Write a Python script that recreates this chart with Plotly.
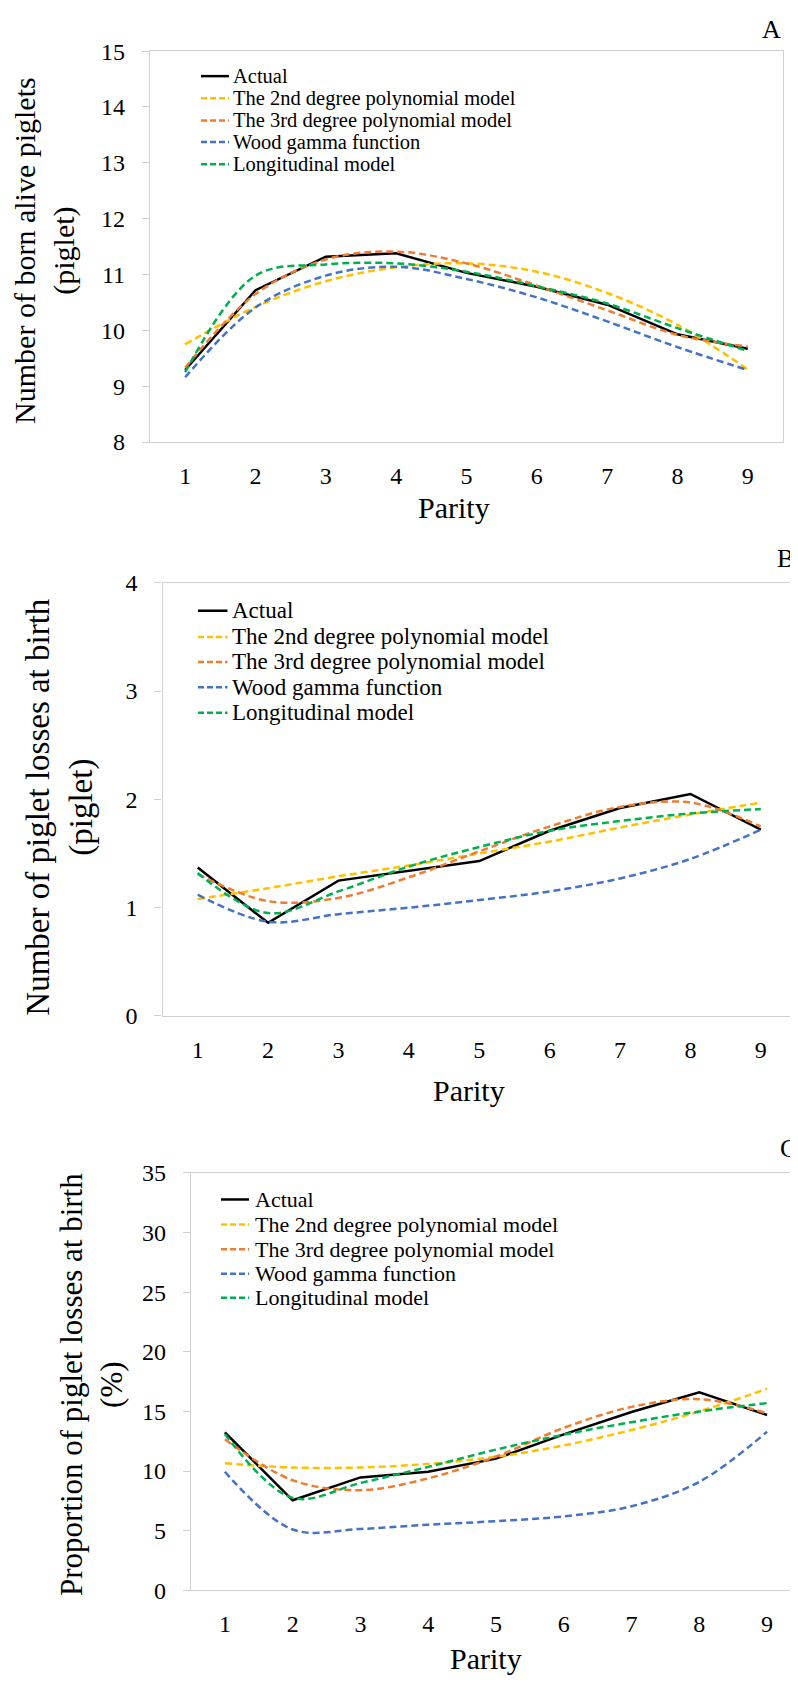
import plotly.graph_objects as go

# ---------------- data ----------------
parity = [1, 2, 3, 4, 5, 6, 7, 8, 9]
series_names = ["Actual", "The 2nd degree polynomial model", "The 3rd degree polynomial model",
                "Wood gamma function", "Longitudinal model"]

# Panel A: number of born alive piglets
a_actual = [9.29, 10.72, 11.32, 11.38, 11.03, 10.78, 10.46, 9.93, 9.67]
a_poly2 = [9.75, 10.42, 10.88, 11.13, 11.20, 11.05, 10.67, 10.10, 9.30]
a_poly3 = [9.33, 10.65, 11.27, 11.41, 11.20, 10.80, 10.36, 9.92, 9.71]
a_wood = [9.16, 10.41, 10.98, 11.14, 10.92, 10.59, 10.16, 9.70, 9.29]
a_long = [9.25, 10.98, 11.18, 11.20, 11.05, 10.79, 10.48, 10.04, 9.63]

# Panel B: number of piglet losses at birth
b_actual = [1.37, 0.86, 1.25, 1.34, 1.43, 1.71, 1.92, 2.05, 1.72]
b_poly2 = [1.08, 1.18, 1.29, 1.39, 1.50, 1.61, 1.74, 1.86, 1.97]
b_poly3 = [1.31, 1.06, 1.09, 1.28, 1.52, 1.75, 1.93, 1.97, 1.75]
b_wood = [1.12, 0.87, 0.94, 1.00, 1.07, 1.15, 1.27, 1.45, 1.72]
b_long = [1.32, 0.95, 1.15, 1.38, 1.56, 1.71, 1.80, 1.87, 1.91]

# Panel C: proportion of piglet losses at birth (%)
c_actual = [13.24, 7.55, 9.47, 9.94, 11.04, 13.08, 14.95, 16.6, 14.7]
c_poly2 = [10.65, 10.3, 10.3, 10.6, 11.2, 12.15, 13.45, 15.0, 16.9]
c_poly3 = [12.66, 9.23, 8.40, 9.39, 11.22, 13.62, 15.38, 16.03, 14.84]
c_wood = [9.94, 5.1, 5.15, 5.5, 5.8, 6.2, 7.05, 9.1, 13.3]
c_long = [13.1, 7.75, 9.0, 10.35, 11.8, 13.05, 14.1, 15.0, 15.7]

panel_labels = ["A", "B", "C"]
y_titles = ["Number of born alive piglets<br>(piglet)",
            "Number of piglet losses at birth<br>(piglet)",
            "Proportion of piglet losses at birth<br>(%)"]
x_title = "Parity"

# ---------------- styles / layout ----------------
OFF = 8                      # default page body margin shifts the figure by 8 px
W, H = 798 - OFF, 1688 - OFF
FONT = "Liberation Serif, Times New Roman, serif"
colors = ["#000000", "#FFC000", "#ED7D31", "#4472C4", "#00B050"]
dashes = ["solid", "7px,4px", "7px,4px", "7px,4px", "7px,4px"]
shapes_line = ["linear", "spline", "spline", "spline", "spline"]
AXIS_GRAY = "#D0D0D0"


def px_x(p):
    return min(1.0, (p - OFF) / W)


def px_y(p):
    return 1 - (p - OFF) / H


panels = [
    dict(data=[a_actual, a_poly2, a_poly3, a_wood, a_long],
         xdom=[150, 783], ytop=38.6, ybot=435.7, yrange=[8, 15], dtick=1, xrange=[0.5, 9.5],
         ymirror=True,
         ytitle_pos=(44.5, 241, 30), xtitle_pos=(453.6, 502), label_pos=(771, 17),
         leg_rows=[64, 86.4, 109, 131, 153.6], leg_line=(201, 229), leg_text=231, leg_font=20.5),
    dict(data=[b_actual, b_poly2, b_poly3, b_wood, b_long],
         xdom=[162.5, 796], ytop=578.6, ybot=1018.6, yrange=[0, 4], dtick=1, xrange=[0.5, 9.5],
         ymirror=True,
         ytitle_pos=(60, 806, 33), xtitle_pos=(469, 1094), label_pos=(785, 554),
         leg_rows=[607, 633.6, 659, 684.6, 710.7], leg_line=(198, 227.5), leg_text=230, leg_font=23),
    dict(data=[c_actual, c_poly2, c_poly3, c_wood, c_long],
         xdom=[191, 798], ytop=1178, ybot=1602, yrange=[0, 35], dtick=5, xrange=[0.5, 9.456],
         ymirror=False,
         ytitle_pos=(91.5, 1393, 31), xtitle_pos=(486, 1671), label_pos=(788, 1153),
         leg_rows=[1205, 1230.5, 1255.5, 1280.5, 1304.8], leg_line=(221, 249), leg_text=253, leg_font=22),
]

fig = go.Figure()
annotations = []
shapes = []
layout_axes = {}

for i, p in enumerate(panels):
    n = "" if i == 0 else str(i + 1)
    xa, ya = "x" + n, "y" + n
    for k, vals in enumerate(p["data"]):
        fig.add_trace(go.Scatter(
            x=parity, y=vals, name=series_names[k], mode="lines",
            line=dict(color=colors[k], width=2.5, dash=dashes[k], shape=shapes_line[k]),
            xaxis=xa, yaxis=ya, showlegend=False, hoverinfo="skip"))

    layout_axes["xaxis" + n] = dict(
        domain=[px_x(p["xdom"][0]), px_x(p["xdom"][1])], range=p["xrange"],
        anchor=ya, tickmode="array", tickvals=parity, ticktext=[str(v) for v in parity],
        showline=True, mirror=True, linecolor=AXIS_GRAY, linewidth=1.3,
        ticks="", showgrid=False, zeroline=False, ticklabelstandoff=12,
        tickfont=dict(family=FONT, size=24, color="black"), fixedrange=True)
    layout_axes["yaxis" + n] = dict(
        domain=[px_y(p["ybot"]), px_y(p["ytop"])], range=p["yrange"], dtick=p["dtick"],
        anchor=xa, showline=True, mirror=p["ymirror"], linecolor=AXIS_GRAY, linewidth=1.3,
        ticks="outside", ticklen=7, tickcolor=AXIS_GRAY, tickwidth=1.3,
        showgrid=False, zeroline=False, ticklabelstandoff=12,
        tickfont=dict(family=FONT, size=24, color="black"), fixedrange=True)

    # y-axis title
    tx, ty, tfs = p["ytitle_pos"]
    annotations.append(dict(text=y_titles[i], x=px_x(tx), y=px_y(ty), xref="paper", yref="paper",
                            xanchor="center", yanchor="middle", textangle=-90, showarrow=False,
                            font=dict(family=FONT, size=tfs, color="black")))
    # x-axis title
    xx, xy = p["xtitle_pos"]
    annotations.append(dict(text=x_title, x=px_x(xx), y=px_y(xy), xref="paper", yref="paper",
                            xanchor="center", yanchor="middle", showarrow=False,
                            font=dict(family=FONT, size=30, color="black")))
    # panel label
    lx, ly = p["label_pos"]
    annotations.append(dict(text=panel_labels[i], x=px_x(lx), y=px_y(ly), xref="paper", yref="paper",
                            xanchor="center", yanchor="middle", showarrow=False,
                            font=dict(family=FONT, size=26, color="black")))
    # legend (drawn manually to match the tight Excel spacing)
    for k, row in enumerate(p["leg_rows"]):
        shapes.append(dict(type="line", xref="paper", yref="paper",
                           x0=px_x(p["leg_line"][0]), x1=px_x(p["leg_line"][1]),
                           y0=px_y(row), y1=px_y(row),
                           line=dict(color=colors[k], width=2.5,
                                     dash=("solid" if k == 0 else "6px,3px"))))
        annotations.append(dict(text=series_names[k], x=px_x(p["leg_text"]), y=px_y(row),
                                xref="paper", yref="paper", xanchor="left", yanchor="middle",
                                showarrow=False,
                                font=dict(family=FONT, size=p["leg_font"], color="black")))

fig.update_layout(
    width=W, height=H, margin=dict(l=0, r=0, t=0, b=0),
    paper_bgcolor="white", plot_bgcolor="white",
    font=dict(family=FONT, color="black"),
    showlegend=False, annotations=annotations, shapes=shapes,
    **layout_axes)

fig.write_html("out.html")
